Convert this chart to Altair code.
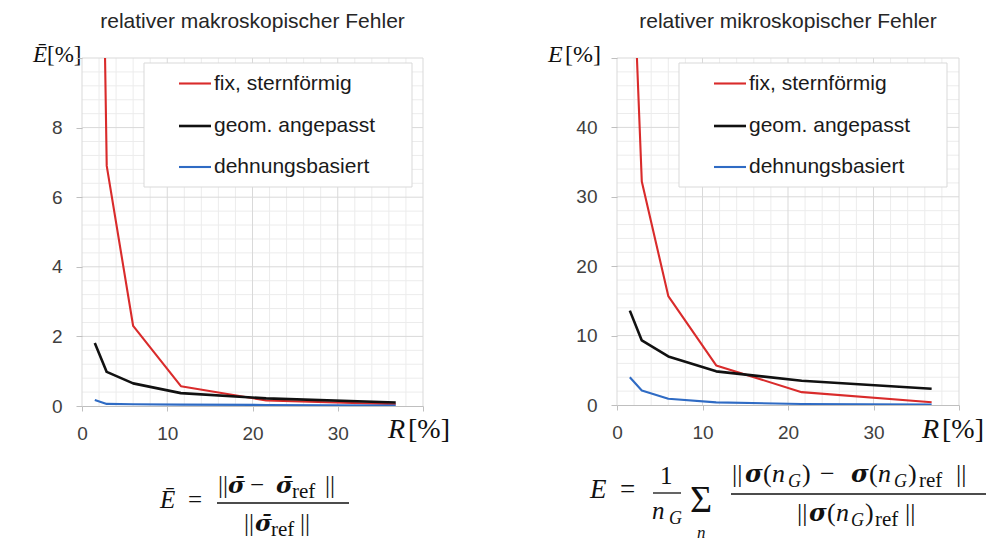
import altair as alt
import pandas as pd

# ---------------- data ----------------
R = [1.5, 2.9, 6.0, 11.6, 21.6, 36.8]
SERIES = ["fix, sternförmig", "geom. angepasst", "dehnungsbasiert"]
COLORS = ["#d92b2b", "#111111", "#2f6bc4"]
WIDTHS = [2.1, 2.6, 2.1]

makro_fix = [29.0, 6.9, 2.3, 0.57, 0.16, 0.05]
makro_geom = [1.81, 0.98, 0.65, 0.37, 0.22, 0.10]
makro_dehn = [0.17, 0.06, 0.05, 0.04, 0.03, 0.01]

mikro_fix = [76.0, 32.2, 15.7, 5.7, 1.85, 0.40]
mikro_geom = [13.6, 9.3, 7.0, 4.85, 3.5, 2.35]
mikro_dehn = [4.0, 2.1, 0.9, 0.38, 0.15, 0.08]

X_TICKS = [0, 10, 20, 30, 40]
LEFT_Y_TICKS = [0, 2, 4, 6, 8, 10]
RIGHT_Y_TICKS = [0, 10, 20, 30, 40, 50]

TITLES = ["relativer makroskopischer Fehler", "relativer mikroskopischer Fehler"]

SANS = "Liberation Sans"
SERIF = "Liberation Serif"
GREEK = "DejaVu Serif"
MAJOR = "#d9d9d9"
MINOR = "#ececec"
AXC = "#bfbfbf"
LABC = "#404040"

ONE = pd.DataFrame({"k": [0]})


def panel(cx0, cx1, ox, oy, W, H, ymax, yminor_step, yticks, vals, title, texts, bars):
    xs = alt.Scale(domain=[0, 40], nice=False)
    ys = alt.Scale(domain=[0, ymax], nice=False)
    xax = alt.Axis(values=X_TICKS, labelExpr="datum.value >= 40 ? '' : datum.label",
                   grid=False, domain=True, domainColor=AXC, ticks=True, tickColor=AXC,
                   tickSize=5, labelFont=SANS, labelFontSize=19, labelColor=LABC,
                   labelPadding=13, title=None, labelFlush=False, labelOverlap=False, zindex=1)
    yax = alt.Axis(values=yticks, labelExpr=f"datum.value >= {ymax} ? '' : datum.label",
                   grid=False, domain=False, ticks=True, tickColor=AXC, tickSize=6,
                   labelFont=SANS, labelFontSize=19, labelColor=LABC, labelPadding=14,
                   title=None, labelFlush=False, labelOverlap=False, zindex=1)
    L = []
    # white background block defining the panel's extent on the page
    L.append(alt.Chart(ONE).mark_rect(fill="white", strokeWidth=0).encode(
        x=alt.value(cx0 - ox), x2=alt.value(cx1 - ox), y=alt.value(-oy), y2=alt.value(541 - oy)))
    # minor grid
    mx = [v for v in range(2, 40, 2) if v % 10]
    n = int(round(ymax / yminor_step))
    my = [round(i * yminor_step, 3) for i in range(1, n) if i % 5]
    L.append(alt.Chart(pd.DataFrame({"gx": mx})).mark_rule(color=MINOR, strokeWidth=1).encode(
        x=alt.X("gx:Q", scale=xs, axis=xax)))
    L.append(alt.Chart(pd.DataFrame({"gy": my})).mark_rule(color=MINOR, strokeWidth=1).encode(
        y=alt.Y("gy:Q", scale=ys, axis=yax)))
    # major grid
    L.append(alt.Chart(pd.DataFrame({"gx": X_TICKS})).mark_rule(color=MAJOR, strokeWidth=1).encode(
        x=alt.X("gx:Q", scale=xs, axis=xax)))
    L.append(alt.Chart(pd.DataFrame({"gy": yticks[1:]})).mark_rule(color=MAJOR, strokeWidth=1).encode(
        y=alt.Y("gy:Q", scale=ys, axis=yax)))
    # series
    for v, c, w in zip(vals, COLORS, WIDTHS):
        df = pd.DataFrame({"R": R, "E": v})
        L.append(alt.Chart(df).mark_line(clip=True, color=c, strokeWidth=w, strokeJoin="round").encode(
            x=alt.X("R:Q", scale=xs, axis=xax), y=alt.Y("E:Q", scale=ys, axis=yax)))
    # legend box
    L.append(alt.Chart(ONE).mark_rect(fill="white", stroke="#d9d9d9", strokeWidth=1).encode(
        x=alt.value(62), x2=alt.value(330), y=alt.value(5), y2=alt.value(129)))
    rows = [25.5, 68, 109]
    for name, c, w, yy in zip(SERIES, COLORS, WIDTHS, rows):
        L.append(alt.Chart(ONE).mark_rule(color=c, strokeWidth=w).encode(
            x=alt.value(97), x2=alt.value(129), y=alt.value(yy)))
        L.append(alt.Chart(ONE).mark_text(text=name, font=SANS, fontSize=21, align="left",
                                          baseline="middle", color="#1a1a1a").encode(
            x=alt.value(132), y=alt.value(yy)))
    # title
    L.append(alt.Chart(ONE).mark_text(text=title, font=SANS, fontSize=21, align="center",
                                      baseline="middle", color="#262626").encode(
        x=alt.value(W / 2), y=alt.value(22 - oy)))
    # text pieces (axis symbols and formula)
    for (s, x, y, size, font, style, weight) in texts:
        L.append(alt.Chart(ONE).mark_text(text=s, font=font, fontSize=size, fontStyle=style,
                                          fontWeight=weight, align="left", baseline="alphabetic",
                                          color="#111111").encode(
            x=alt.value(x - ox), y=alt.value(y - oy)))
    for (x1, x2, y) in bars:
        L.append(alt.Chart(ONE).mark_rule(color="#111111", strokeWidth=1.3).encode(
            x=alt.value(x1 - ox), x2=alt.value(x2 - ox), y=alt.value(y - oy)))
    return alt.layer(*L).properties(width=W, height=H)


N, I, B = "normal", "italic", "bold"
left_texts = [
    ("Ē", 33, 62, 23, SERIF, I, N), ("[%]", 47, 62, 23, SERIF, N, N),
    ("R", 388, 438, 28, SERIF, I, N), ("[%]", 408, 438, 28, SERIF, N, N),
    ("Ē", 160, 508, 25, SERIF, I, N), ("=", 188, 508, 25, SERIF, N, N),
    ("||", 218, 493, 25, SERIF, N, N), ("σ\u0304", 228, 493, 23, GREEK, I, B),
    ("−", 250, 493, 25, SERIF, N, N), ("σ\u0304", 276, 493, 23, GREEK, I, B),
    ("ref", 292, 498, 21, SERIF, N, N), ("||", 325, 493, 25, SERIF, N, N),
    ("||", 244, 531, 25, SERIF, N, N), ("σ\u0304", 255, 531, 23, GREEK, I, B),
    ("ref", 271, 536, 21, SERIF, N, N), ("||", 300, 531, 25, SERIF, N, N),
]
left_bars = [(217, 349, 503)]

right_texts = [
    ("E", 548, 62, 24, SERIF, I, N), ("[%]", 565, 62, 24, SERIF, N, N),
    ("R", 922, 438, 28, SERIF, I, N), ("[%]", 942, 438, 28, SERIF, N, N),
    ("E", 590, 498, 27, SERIF, I, N), ("=", 620, 498, 27, SERIF, N, N),
    ("1", 660, 484, 25, SERIF, N, N),
    ("n", 652, 519, 25, SERIF, I, N), ("G", 669, 524, 18, SERIF, I, N),
    ("Σ", 690, 512, 38, SERIF, N, N), ("n", 697, 538, 17, SERIF, I, N),
    ("||", 732, 482, 26, SERIF, N, N), ("σ", 745, 482, 24, GREEK, I, B),
    ("(", 763, 482, 26, SERIF, N, N), ("n", 772, 482, 26, SERIF, I, N),
    ("G", 788, 487, 18, SERIF, I, N), (")", 802, 482, 26, SERIF, N, N),
    ("−", 820, 482, 26, SERIF, N, N), ("σ", 851, 482, 24, GREEK, I, B),
    ("(", 869, 482, 26, SERIF, N, N), ("n", 878, 482, 26, SERIF, I, N),
    ("G", 894, 487, 18, SERIF, I, N), (")", 908, 482, 26, SERIF, N, N),
    ("ref", 919, 487, 21, SERIF, N, N), ("||", 956, 482, 26, SERIF, N, N),
    ("||", 797, 521, 26, SERIF, N, N), ("σ", 809, 521, 24, GREEK, I, B),
    ("(", 827, 521, 26, SERIF, N, N), ("n", 836, 521, 26, SERIF, I, N),
    ("G", 851, 526, 18, SERIF, I, N), (")", 865, 521, 26, SERIF, N, N),
    ("ref", 875, 526, 21, SERIF, N, N), ("||", 905, 521, 26, SERIF, N, N),
]
right_bars = [(653, 681, 493), (731, 986, 494)]

left = panel(0, 494, 82, 58, 341, 348, 10, 0.4, LEFT_Y_TICKS,
             [makro_fix, makro_geom, makro_dehn], TITLES[0], left_texts, left_bars)
right = panel(494, 988, 617, 58, 342, 347, 50, 2, RIGHT_Y_TICKS,
              [mikro_fix, mikro_geom, mikro_dehn], TITLES[1], right_texts, right_bars)

chart = alt.hconcat(left, right, spacing=0).properties(padding=0, background="white").configure_view(stroke=None)
chart.save("out.html", embed_options={"renderer": "svg", "actions": False})
